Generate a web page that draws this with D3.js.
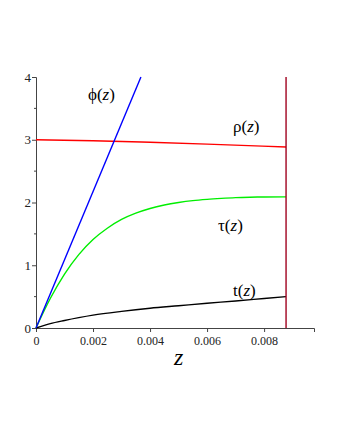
<!DOCTYPE html>
<html>
<head>
<meta charset="utf-8">
<script src="https://cdn.jsdelivr.net/npm/d3@7"></script>
<style>
  body { margin: 0; background: #fff; }
</style>
</head>
<body>
<div id="chart"></div>
<script>
// values
const zTicks = [0, 0.002, 0.004, 0.006, 0.008];
const yTicks = [0, 1, 2, 3, 4];
const zEnd = 0.00877;

const phiZ = [0, 0.00368];
const phiV = [0, 4.0];

const rhoZ = [0, 0.002, 0.004, 0.006, 0.00877];
const rhoV = [3.0, 2.985, 2.96, 2.93, 2.885];

const tauZ = [0, 0.0005, 0.001, 0.0015, 0.002, 0.0025, 0.003, 0.0035, 0.004, 0.0045, 0.005, 0.0055, 0.006, 0.0065, 0.007, 0.0075, 0.008, 0.00877];
const tauV = [0, 0.47, 0.86, 1.17, 1.41, 1.59, 1.73, 1.83, 1.905, 1.96, 2.0, 2.03, 2.05, 2.065, 2.077, 2.084, 2.088, 2.09];

const tZ = [0, 0.0005, 0.001, 0.0015, 0.002, 0.003, 0.004, 0.005, 0.006, 0.007, 0.008, 0.00877];
const tV = [0, 0.07, 0.12, 0.165, 0.205, 0.265, 0.315, 0.355, 0.395, 0.43, 0.47, 0.5];

const width = 340, height = 440;
const serif = "Liberation Serif";

const svg = d3.select("#chart").append("svg")
    .attr("width", width)
    .attr("height", height);

const x = d3.scaleLinear().domain([0, 0.00975]).range([36, 314]);
const y = d3.scaleLinear().domain([0, 4]).range([328, 77]);

const line = d3.line()
    .x(d => x(d[0]))
    .y(d => y(d[1]));

function drawCurve(zs, vs, color) {
    svg.append("path")
        .datum(zs.map((z, i) => [z, vs[i]]))
        .attr("fill", "none")
        .attr("stroke", color)
        .attr("stroke-width", 1.4)
        .attr("d", line.curve(d3.curveMonotoneX));
}

// axes
const xAxis = d3.axisBottom(x)
    .tickValues(zTicks)
    .tickSize(4)
    .tickFormat(d => d === 0 ? "0" : d3.format(".3f")(d));
const gx = svg.append("g")
    .attr("transform", `translate(0,${y(0)})`)
    .call(xAxis);

const yAxis = d3.axisLeft(y)
    .tickValues(yTicks)
    .tickSize(4)
    .tickFormat(d3.format("d"));
const gy = svg.append("g")
    .attr("transform", `translate(${x(0)},0)`)
    .call(yAxis);

// minor ticks on the y axis
gy.selectAll(".minor")
    .data([0.5, 1.5, 2.5, 3.5])
    .join("line")
    .attr("x1", -2).attr("x2", 1)
    .attr("y1", d => y(d)).attr("y2", d => y(d))
    .attr("stroke", "#444");

[gx, gy].forEach(g => {
    g.attr("font-family", serif);
    g.select(".domain").attr("stroke", "#444");
    g.selectAll(".tick line").attr("stroke", "#444");
    g.selectAll(".tick text")
        .attr("font-size", 12)
        .attr("fill", "#222");
});
gy.selectAll(".tick text").attr("font-size", 13).attr("x", -5);
gx.selectAll(".tick text").attr("y", 8);

// curves
drawCurve(rhoZ, rhoV, "#ff0000");
drawCurve(tauZ, tauV, "#00ee00");
drawCurve(tZ, tV, "#000000");
drawCurve(phiZ, phiV, "#0000ff");

// vertical line at the end of the solution
svg.append("line")
    .attr("x1", x(zEnd)).attr("x2", x(zEnd))
    .attr("y1", y(0)).attr("y2", y(4))
    .attr("stroke", "#a0001e")
    .attr("stroke-width", 1.4);

// curve labels
function label(name, px, py) {
    const t = svg.append("text")
        .attr("x", px).attr("y", py)
        .attr("font-family", serif)
        .attr("font-size", 17)
        .attr("fill", "#000");
    t.append("tspan").text(name + "(");
    t.append("tspan").attr("font-style", "italic").text("z");
    t.append("tspan").text(")");
}
label("\u03d5", 88, 100);
label("\u03c1", 233, 132);
label("\u03c4", 218, 231);
label("t", 233, 296);

// axis title
svg.append("text")
    .attr("x", x(0.005))
    .attr("y", 365)
    .attr("text-anchor", "middle")
    .attr("font-family", serif)
    .attr("font-size", 24)
    .attr("font-style", "italic")
    .text("z");
</script>
</body>
</html>
